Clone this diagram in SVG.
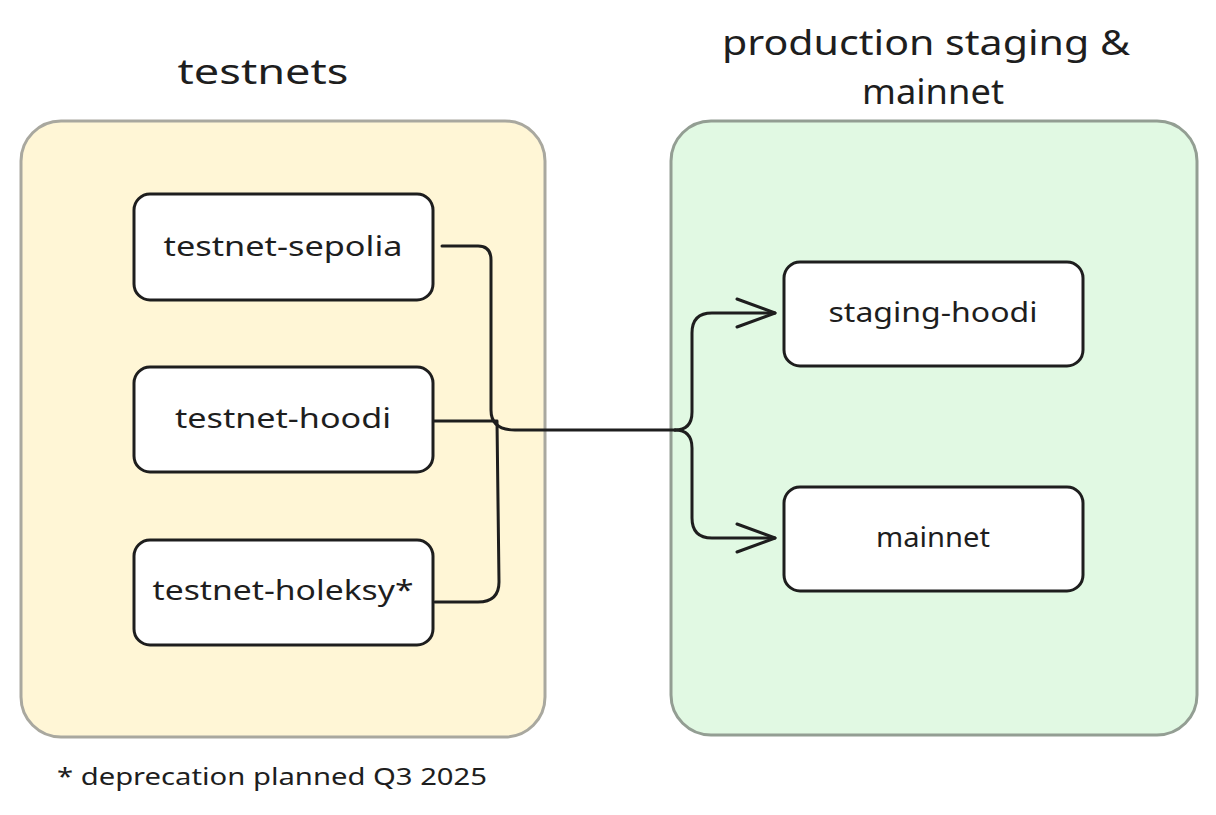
<svg xmlns="http://www.w3.org/2000/svg" width="1216" height="815" viewBox="0 0 1216 815">
<defs>
<style>
.t{font-family:"Noto Sans","Liberation Sans",sans-serif;fill:#1e1e1e;}
.lbl{font-size:27px;text-anchor:middle;}
.ttl{font-size:34px;text-anchor:middle;}
.node{fill:#ffffff;stroke:#1e1e1e;stroke-width:3;}
.conn{fill:none;stroke:#1e1e1e;stroke-width:3;stroke-linecap:round;stroke-linejoin:round;}
</style>
<marker id="arr" markerWidth="44" markerHeight="34" refX="40" refY="17" orient="auto" markerUnits="userSpaceOnUse">
<path d="M2,3 L40,17 L2,31" fill="none" stroke="#1e1e1e" stroke-width="3" stroke-linecap="round" stroke-linejoin="round"/>
</marker>
</defs>
<rect width="1216" height="815" fill="#ffffff"/>
<g id="testnets-group">
<rect x="21" y="121" width="524" height="616" rx="40" fill="#fff6d6" stroke="#a9a89f" stroke-width="3"/>
<text class="t ttl" x="263" y="84" textLength="171" lengthAdjust="spacingAndGlyphs">testnets</text>
</g>
<g id="production-group">
<rect x="671" y="121" width="526" height="614" rx="40" fill="#e1f9e3" stroke="#939e93" stroke-width="3"/>
<text class="t ttl" x="926" y="55" textLength="408" lengthAdjust="spacingAndGlyphs">production staging &amp;</text>
<text class="t ttl" x="933" y="104" textLength="142" lengthAdjust="spacingAndGlyphs">mainnet</text>
</g>
<g id="connectors">
<path class="conn" d="M442,246 L478,246 Q491,246 491,260 L491,410 Q491,430 515,430 L675,430"/>
<path class="conn" d="M434,421 L497,421 L499,582 Q499,602 478,602 L435,602"/>
<path class="conn" marker-end="url(#arr)" d="M675,430 Q692,430 692,412 L692,333 Q692,313 712,313 L775,313"/>
<path class="conn" marker-end="url(#arr)" d="M675,430 Q692,430 692,448 L692,518 Q692,538 712,538 L775,538"/>
</g>
<g id="node-sepolia">
<rect class="node" x="134" y="194" width="299" height="106" rx="16"/>
<text class="t lbl" x="283" y="256" textLength="239" lengthAdjust="spacingAndGlyphs">testnet-sepolia</text>
</g>
<g id="node-testnet-hoodi">
<rect class="node" x="134" y="367" width="299" height="105" rx="16"/>
<text class="t lbl" x="283" y="428" textLength="216" lengthAdjust="spacingAndGlyphs">testnet-hoodi</text>
</g>
<g id="node-holeksy">
<rect class="node" x="134" y="540" width="299" height="105" rx="16"/>
<text class="t lbl" x="283" y="600" textLength="261" lengthAdjust="spacingAndGlyphs">testnet-holeksy*</text>
</g>
<g id="node-staging-hoodi">
<rect class="node" x="784" y="262" width="299" height="104" rx="16"/>
<text class="t lbl" x="933" y="322" textLength="209" lengthAdjust="spacingAndGlyphs">staging-hoodi</text>
</g>
<g id="node-mainnet">
<rect class="node" x="784" y="487" width="299" height="104" rx="16"/>
<text class="t lbl" x="933" y="547" textLength="114" lengthAdjust="spacingAndGlyphs">mainnet</text>
</g>
<g id="footnote">
<text class="t" x="57" y="785" font-size="24" textLength="430" lengthAdjust="spacingAndGlyphs">* deprecation planned Q3 2025</text>
</g>
</svg>
